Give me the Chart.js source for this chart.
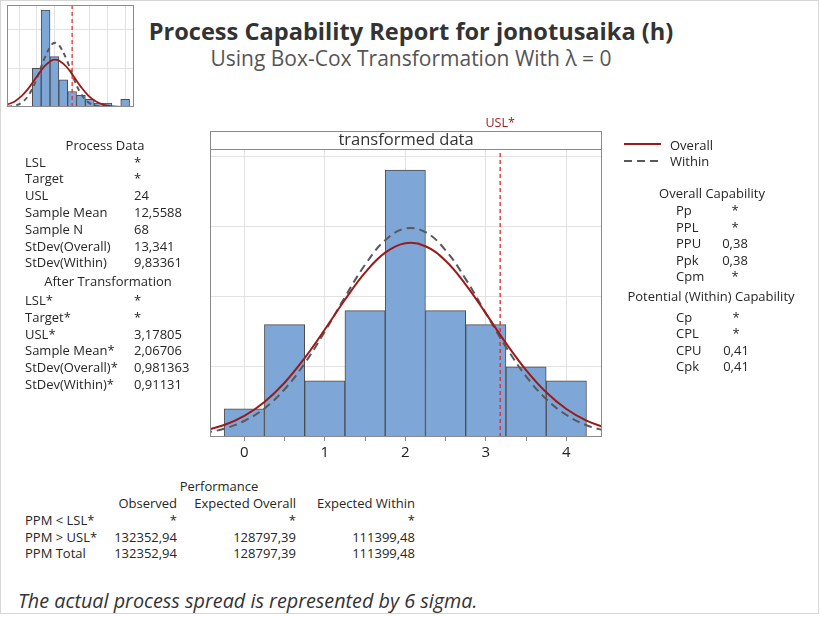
<!DOCTYPE html>
<html>
<head>
<meta charset="utf-8">
<script src="https://cdn.jsdelivr.net/npm/chart.js@4.4.1/dist/chart.umd.min.js"></script>
<style>
  body { margin: 0; background: #fff; font-family: "Open Sans", "Noto Sans", sans-serif; color: #262626; }
  #frame { position: absolute; left: 0; top: 0; width: 817px; height: 612px; border: 1px solid #d6d6d6; }
  .t { position: absolute; white-space: nowrap; font-size: 13px; line-height: 16px; }
  #title { position: absolute; left: 0; width: 822px; top: 15px; text-align: center; font-size: 23.6px; line-height: 32px; font-weight: bold; color: #333; }
  #subtitle { position: absolute; left: 0; width: 822px; top: 44px; text-align: center; font-size: 21px; line-height: 28px; color: #555; }
  #note { position: absolute; left: 18px; top: 587px; font-size: 19.8px; line-height: 28px; font-style: italic; color: #333; }
  #main { position: absolute; left: 200px; top: 100px; }
  #thumb { position: absolute; left: 7px; top: 5px; }
  svg { position: absolute; }
</style>
</head>
<body>
<div id="frame"></div>
<div id="title">Process Capability Report for jonotusaika (h)</div>
<div id="subtitle">Using Box-Cox Transformation With λ = 0</div>
<canvas id="thumb" width="127" height="102"></canvas>
<canvas id="main" width="420" height="370"></canvas>
<svg style="left:620px;top:136px" width="50" height="34">
  <line x1="4" y1="8" x2="41" y2="8" stroke="#9b1a1a" stroke-width="2"/>
  <line x1="4" y1="25" x2="41" y2="25" stroke="#595959" stroke-width="2" stroke-dasharray="8,5"/>
</svg>
<div id="note">The actual process spread is represented by 6 sigma.</div>
<script>
// transformed data histogram (ln of values)
const binCenters = [0, 0.5, 1, 1.5, 2, 2.5, 3, 3.5, 4];
const binCounts = [2, 8, 4, 9, 19, 9, 8, 5, 4];
const usl = 3.17805;

// fitted curves (frequency scale)
const curveX = [-0.5, -0.25, 0, 0.25, 0.5, 0.75, 1, 1.25, 1.5, 1.75, 2, 2.25, 2.5, 2.75, 3, 3.25, 3.5, 3.75, 4, 4.25, 4.5];
const overallY = [0.45, 0.85, 1.5, 2.49, 3.86, 5.62, 7.65, 9.77, 11.7, 13.12, 13.79, 13.58, 12.54, 10.85, 8.8, 6.68, 4.76, 3.18, 1.99, 1.16, 0.64];
const withinY = [0.28, 0.59, 1.14, 2.04, 3.39, 5.24, 7.5, 9.96, 12.26, 14.01, 14.84, 14.58, 13.29, 11.24, 8.81, 6.41, 4.32, 2.7, 1.57, 0.84, 0.42];

const xTicks = [0, 0.5, 1, 1.5, 2, 2.5, 3, 3.5, 4];
const yGrid = [5, 10, 15, 20];

// original data (small preview)
const rawCenters = [0, 6, 12, 18, 24, 30, 36, 42, 48, 54, 60];
const rawCounts = [10, 25, 13, 7, 4, 3, 2, 1, 1, 0, 2];
const rawUsl = 24;
const rawCurveX = [-20, -15, -10, -5, 0, 5, 10, 12.5, 15, 20, 25, 30, 35, 40, 45, 50, 55, 60, 65];
const rawOverallY = [0.62, 1.44, 2.92, 5.13, 7.83, 10.39, 11.98, 12.2, 12.0, 10.44, 7.9, 5.19, 2.96, 1.47, 0.63, 0.24, 0.08, 0.02, 0.01];
const rawWithinY = [0.07, 0.33, 1.19, 3.36, 7.32, 12.32, 16.0, 16.55, 16.05, 12.43, 7.43, 3.43, 1.22, 0.34, 0.07, 0.01, 0, 0, 0];
const rawXGrid = [-12, 0, 12, 24, 36, 48, 60];
const rawYGrid = [10, 20];

// text panels
const processLabels = ["LSL", "Target", "USL", "Sample Mean", "Sample N", "StDev(Overall)", "StDev(Within)"];
const processValues = ["*", "*", "24", "12,5588", "68", "13,341", "9,83361"];
const afterLabels = ["LSL*", "Target*", "USL*", "Sample Mean*", "StDev(Overall)*", "StDev(Within)*"];
const afterValues = ["*", "*", "3,17805", "2,06706", "0,981363", "0,91131"];
const overallCapLabels = ["Pp", "PPL", "PPU", "Ppk", "Cpm"];
const overallCapValues = ["*", "*", "0,38", "0,38", "*"];
const withinCapLabels = ["Cp", "CPL", "CPU", "Cpk"];
const withinCapValues = ["*", "*", "0,41", "0,41"];
const perfColumns = ["Observed", "Expected Overall", "Expected Within"];
const perfRows = ["PPM < LSL*", "PPM > USL*", "PPM Total"];
const perfObserved = ["*", "132352,94", "132352,94"];
const perfOverall = ["*", "128797,39", "128797,39"];
const perfWithin = ["*", "111399,48", "111399,48"];

function put(text, x, y, align) {
    let d = document.createElement("div");
    d.className = "t";
    d.textContent = text;
    d.style.top = (y - 8) + "px";
    if (align === "center") {
        d.style.left = (x - 150) + "px";
        d.style.width = "300px";
        d.style.textAlign = "center";
    } else if (align === "right") {
        d.style.left = (x - 200) + "px";
        d.style.width = "200px";
        d.style.textAlign = "right";
    } else {
        d.style.left = x + "px";
    }
    document.body.appendChild(d);
}

put("Process Data", 105, 145, "center");
processLabels.forEach((l, i) => { put(l, 25, 161.5 + i * 16.8); put(processValues[i], 134, 161.5 + i * 16.8); });
put("After Transformation", 108, 281, "center");
afterLabels.forEach((l, i) => { put(l, 25, 300 + i * 16.8); put(afterValues[i], 134, 300 + i * 16.8); });

put("Overall", 670, 145);
put("Within", 670, 161);
put("Overall Capability", 712, 193, "center");
overallCapLabels.forEach((l, i) => { put(l, 676, 210 + i * 16.6); put(overallCapValues[i], 735, 210 + i * 16.6, "center"); });
put("Potential (Within) Capability", 711, 296, "center");
withinCapLabels.forEach((l, i) => { put(l, 676, 316.5 + i * 16.6); put(withinCapValues[i], 736, 316.5 + i * 16.6, "center"); });

put("Performance", 219, 486, "center");
put(perfColumns[0], 177, 503, "right");
put(perfColumns[1], 296, 503, "right");
put(perfColumns[2], 415, 503, "right");
perfRows.forEach((l, i) => {
    let y = 520 + i * 16.5;
    put(l, 25, y);
    put(perfObserved[i], 177, y, "right");
    put(perfOverall[i], 296, y, "right");
    put(perfWithin[i], 415, y, "right");
});

function toPoints(xs, ys) {
    return xs.map((x, i) => ({ x: x, y: ys[i] }));
}

const frameLine = {
    id: "frameLine",
    afterDatasetsDraw(chart, args, opts) {
        let a = chart.chartArea;
        let ctx = chart.ctx;
        ctx.save();
        ctx.strokeStyle = "#8a8a8a";
        ctx.lineWidth = 1;
        ctx.strokeRect(Math.round(a.left) + 0.5, Math.round(a.top) + 0.5, Math.round(a.right - a.left) - 1, Math.round(a.bottom - a.top) - 1);
        if (opts.header) {
            let top = Math.round(a.top) - 18;
            ctx.strokeRect(Math.round(a.left) + 0.5, top + 0.5, Math.round(a.right - a.left) - 1, 18);
            ctx.fillStyle = "#333";
            ctx.font = "16.5px 'Open Sans', 'Noto Sans', sans-serif";
            ctx.textAlign = "center";
            ctx.textBaseline = "middle";
            ctx.fillText(opts.header, (a.left + a.right) / 2, top + 9.5);
            let xs = chart.scales.x.getPixelForValue(opts.uslValue);
            ctx.fillStyle = "#9b1a1a";
            ctx.font = "12.5px 'Open Sans', 'Noto Sans', sans-serif";
            ctx.fillText(opts.uslLabel, xs, top - 8);
        }
        ctx.restore();
    }
};

new Chart(document.getElementById("main").getContext("2d"), {
    type: "bar",
    data: {
        datasets: [
            {
                type: "line",
                data: toPoints(curveX, overallY),
                borderColor: "#9b1a1a",
                borderWidth: 2,
                pointRadius: 0,
                tension: 0.4,
                order: 0,
            },
            {
                type: "line",
                data: toPoints(curveX, withinY),
                borderColor: "#595959",
                borderWidth: 2,
                borderDash: [8, 5],
                pointRadius: 0,
                tension: 0.4,
                order: 1,
            },
            {
                type: "line",
                data: [{ x: usl, y: 0 }, { x: usl, y: 20.5 }],
                borderColor: "#e3262b",
                borderWidth: 1.3,
                borderDash: [4, 3],
                pointRadius: 0,
                order: 2,
            },
            {
                data: toPoints(binCenters, binCounts),
                backgroundColor: "#7ea7d8",
                borderColor: "#4d4d4d",
                borderWidth: 1,
                barPercentage: 1,
                categoryPercentage: 1,
                order: 3,
            },
        ],
    },
    options: {
        responsive: false,
        animation: false,
        devicePixelRatio: 1,
        layout: { padding: { left: 10, right: 18, top: 49, bottom: 3 } },
        plugins: {
            legend: { display: false },
            tooltip: { enabled: false },
            frameLine: { header: "transformed data", uslValue: usl, uslLabel: "USL*" },
        },
        scales: {
            x: {
                type: "linear",
                min: -0.426,
                max: 4.443,
                offset: false,
                afterBuildTicks: (s) => { s.ticks = xTicks.map((v) => ({ value: v })); },
                afterFit: (s) => { s.height = 30; },
                grid: {
                    offset: false,
                    color: (c) => (c.tick && Number.isInteger(c.tick.value) ? "#e2e2e2" : "rgba(0,0,0,0)"),
                    tickColor: "#8a8a8a",
                    tickLength: 4,
                },
                border: { display: false },
                ticks: {
                    padding: 3,
                    color: "#222",
                    font: { size: 15, family: "'Open Sans', 'Noto Sans', sans-serif" },
                    autoSkip: false,
                    maxRotation: 0,
                    callback: (v) => (Number.isInteger(v) ? String(v) : ""),
                },
            },
            y: {
                min: 0,
                max: 20.5,
                afterBuildTicks: (s) => { s.ticks = yGrid.map((v) => ({ value: v })); },
                afterFit: (s) => { s.width = 0; },
                grid: { color: "#e2e2e2", drawTicks: false },
                border: { display: false },
                ticks: { display: false },
            },
        },
    },
    plugins: [frameLine],
});

new Chart(document.getElementById("thumb").getContext("2d"), {
    type: "bar",
    data: {
        datasets: [
            {
                type: "line",
                data: toPoints(rawCurveX, rawOverallY),
                borderColor: "#9b1a1a",
                borderWidth: 1.8,
                pointRadius: 0,
                tension: 0.4,
                order: 0,
            },
            {
                type: "line",
                data: toPoints(rawCurveX, rawWithinY),
                borderColor: "#595959",
                borderWidth: 2,
                borderDash: [5, 4],
                pointRadius: 0,
                tension: 0.4,
                order: 1,
            },
            {
                type: "line",
                data: [{ x: rawUsl, y: 0 }, { x: rawUsl, y: 26.3 }],
                borderColor: "#e3262b",
                borderWidth: 1.2,
                borderDash: [4, 3],
                pointRadius: 0,
                order: 2,
            },
            {
                data: toPoints(rawCenters, rawCounts),
                backgroundColor: "#7ea7d8",
                borderColor: "#4d4d4d",
                borderWidth: 1,
                barPercentage: 1,
                categoryPercentage: 1,
                order: 3,
            },
        ],
    },
    options: {
        responsive: false,
        animation: false,
        devicePixelRatio: 1,
        layout: { padding: 0 },
        plugins: { legend: { display: false }, tooltip: { enabled: false }, frameLine: {} },
        scales: {
            x: {
                type: "linear",
                min: -20.2,
                max: 66,
                offset: false,
                afterBuildTicks: (s) => { s.ticks = rawXGrid.map((v) => ({ value: v })); },
                afterFit: (s) => { s.height = 0; },
                grid: { offset: false, color: "#e2e2e2", drawTicks: false },
                border: { display: false },
                ticks: { display: false },
            },
            y: {
                min: 0,
                max: 26.3,
                afterBuildTicks: (s) => { s.ticks = rawYGrid.map((v) => ({ value: v })); },
                afterFit: (s) => { s.width = 0; },
                grid: { color: "#e2e2e2", drawTicks: false },
                border: { display: false },
                ticks: { display: false },
            },
        },
    },
    plugins: [frameLine],
});
</script>
</body>
</html>
